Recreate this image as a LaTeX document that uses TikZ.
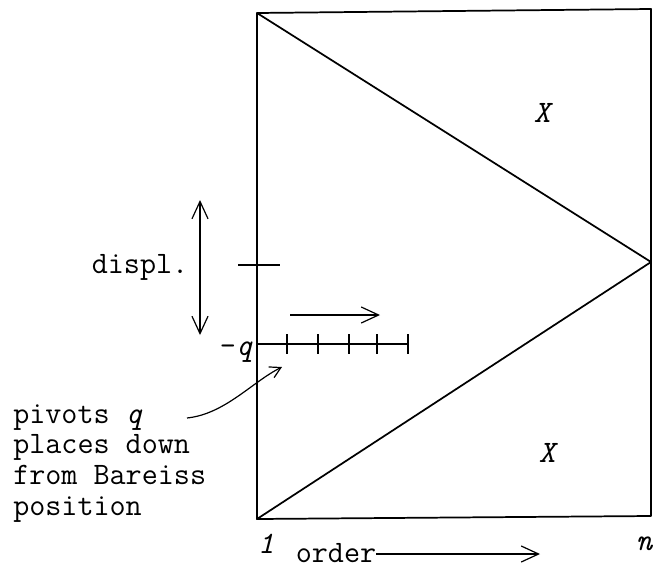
\documentclass[tikz,border=0pt]{standalone}
\usepackage{fontspec}
\usetikzlibrary{arrows.meta}
\begin{document}
\begin{tikzpicture}[x=0.75pt,y=-0.75pt,
  frame/.style={line width=1.3pt, line cap=round, line join=round},
  thinline/.style={line width=0.9pt},
  lbl/.style={font=\ttfamily\fontsize{23.4}{27}\selectfont, inner sep=0pt},
  ilbl/.style={font=\ttfamily\fontsize{23.4}{27}\selectfont\itshape, inner sep=0pt},
  bigarr/.style={line width=0.9pt, -{Straight Barb[length=13pt,width=12pt,line width=0.9pt]}},
  dblarr/.style={line width=0.9pt, {Straight Barb[length=13pt,width=12pt,line width=0.9pt]}-{Straight Barb[length=13pt,width=12pt,line width=0.9pt]}},
  smallarr/.style={line width=0.9pt, -{Straight Barb[length=8pt,width=9pt,line width=0.9pt]}},
]
\useasboundingbox (0,0) rectangle (653,575);
% frame and triangle
\coordinate (tl) at (257,13);
\coordinate (tr) at (651,9);
\coordinate (br) at (651,516);
\coordinate (bl) at (257,519);
\coordinate (apex) at (651,262);
\draw[frame] (tl) -- (tr) -- (br) -- (bl) -- cycle;
\draw[frame] (tl) -- (apex) -- (bl);
% labels X
\node[ilbl] (xa) at (542,113) {X};
\node[ilbl] (xb) at (547,453) {X};
% displ. and its marks
\node[lbl, anchor=base] (displ) at (140,273) {displ.};
\coordinate (ta) at (238,265);
\coordinate (tb) at (280,265);
\draw[thinline] (ta) -- (tb);
\coordinate (da) at (200,200);
\coordinate (db) at (200,335);
\draw[dblarr] (da) -- (db);
% scale at -q
\node[lbl, anchor=base east] (mq) at (253,355) {-\textit{q}};
\coordinate (s0) at (257,344);
\coordinate (s5) at (408,344);
\draw[thinline] (s0) -- (s5);
\foreach \xx in {287,318,349,377,408}{
  \draw[thinline] (\xx,334) -- (\xx,354);
}
\coordinate (ra) at (290,315);
\coordinate (rb) at (380,315);
\draw[bigarr] (ra) -- (rb);
% pivots text
\node[lbl, anchor=base west] (p1) at (13,423) {pivots \textit{q}};
\node[lbl, anchor=base west] (p2) at (13,453) {places down};
\node[lbl, anchor=base west] (p3) at (13,484) {from Bareiss};
\node[lbl, anchor=base west] (p4) at (13,515) {position};
\coordinate (cs) at (187,418);
\coordinate (ce) at (282,367);
\draw[smallarr] (cs) .. controls (225,414) and (252,382) .. (ce);
% axis labels
\node[ilbl, anchor=base] (one) at (266,553) {1};
\node[ilbl, anchor=base] (nn) at (644,550) {n};
\node[lbl, anchor=base] (order) at (336,562) {order};
\coordinate (oe) at (540,554);
\draw[bigarr] (order.east |- oe) -- (oe);
\end{tikzpicture}
\end{document}
